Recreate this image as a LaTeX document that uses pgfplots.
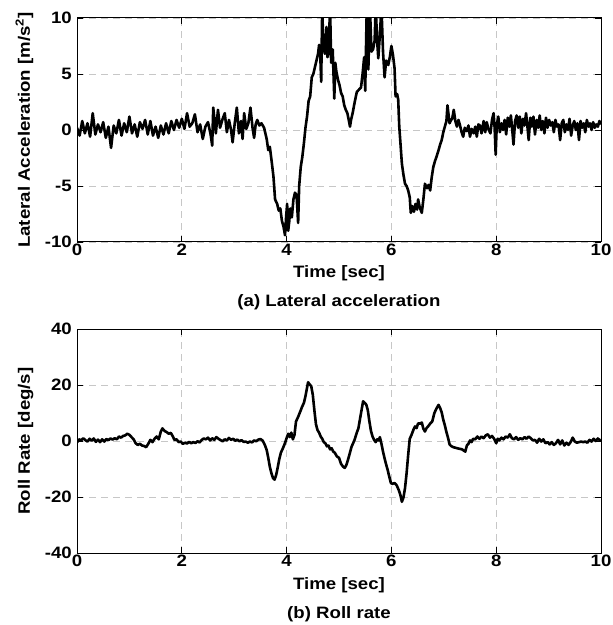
\documentclass[border=0pt]{standalone}
\usepackage{fontspec}
\setmainfont{Liberation Sans}[FakeStretch=1.13]
\usepackage{pgfplots}
\pgfplotsset{compat=1.18}

\pgfplotsset{
  panel/.style={
    width=524bp, height=224bp, scale only axis,
    xmin=0, xmax=10, xtick={0,2,...,10},
    tick align=inside, major tick length=6bp,
    axis line style={line width=1bp},
    every tick/.style={black, line width=0.8bp},
    grid=major,
    grid style={dash pattern=on 7bp off 5bp, black!22, line width=0.8bp},
    /pgf/number format/assume math mode=true,
    tick label style={font=\bfseries\fontsize{16.5bp}{20bp}\selectfont},
    label style={font=\bfseries\fontsize{16.5bp}{20bp}\selectfont},
    xticklabel style={inner sep=2bp},
    yticklabel style={inner sep=5bp},
    xlabel style={at={(axis description cs:0.5,0)}, anchor=base, yshift=-36bp},
    ylabel style={at={(axis description cs:-0.0897,0.5)}, anchor=base},
    xlabel={Time [sec]},
  }
}

\begin{document}
\begin{tikzpicture}
\useasboundingbox (-77bp,-72bp) rectangle (536bp,553bp);

% (a) lateral acceleration
\begin{axis}[panel, at={(0,311bp)},
  ymin=-10, ymax=10, ytick={-10,-5,0,5,10},
  ylabel={Lateral Acceleration [m/s\textsuperscript{2}]}]
\addplot[black, line width=2.6bp, line join=round] table {
0.00 0.2
0.05 -0.5
0.10 0.8
0.15 -0.3
0.20 0.6
0.25 -0.6
0.30 1.5
0.35 -0.4
0.40 0.5
0.45 -0.2
0.50 0.7
0.55 -0.7
0.60 0.3
0.65 -1.6
0.70 0.4
0.75 -0.3
0.80 0.9
0.85 -0.5
0.90 0.6
0.95 -0.2
1.00 1.2
1.05 -0.3
1.10 0.5
1.15 -0.6
1.20 0.7
1.25 0.1
1.30 0.9
1.35 -0.4
1.40 0.8
1.45 -0.5
1.50 0.3
1.55 -0.7
1.60 0.4
1.65 -0.4
1.70 0.6
1.75 -0.3
1.80 0.8
1.85 0.0
1.90 0.9
1.95 0.2
2.00 1.0
2.05 0.1
2.10 1.5
2.15 0.3
2.20 0.6
2.25 1.4
2.30 -0.2
2.35 0.5
2.40 -0.8
2.45 0.3
2.50 0.7
2.55 -0.4
2.58 -1.4
2.60 2.0
2.65 -0.3
2.69 1.8
2.73 0.2
2.78 1.0
2.82 1.5
2.86 -0.2
2.90 0.9
2.94 0.0
2.97 -1.1
3.01 0.6
3.05 2.0
3.09 -0.3
3.13 0.8
3.16 -0.8
3.19 1.5
3.23 0.1
3.27 0.6
3.31 2.0
3.35 0.2
3.38 -0.7
3.41 0.5
3.44 0.9
3.48 0.4
3.52 0.6
3.57 0.2
3.62 -0.8
3.65 -1.8
3.68 -1.5
3.72 -3.0
3.75 -4.2
3.78 -6.2
3.82 -6.6
3.85 -7.2
3.88 -7.0
3.91 -8.1
3.94 -8.6
3.97 -9.4
3.99 -7.8
4.01 -6.6
4.03 -9.0
4.05 -8.2
4.07 -7.0
4.10 -7.8
4.13 -6.2
4.16 -5.6
4.19 -5.8
4.22 -8.3
4.24 -5.0
4.27 -3.3
4.30 -2.4
4.33 -1.2
4.36 0.2
4.39 1.2
4.42 2.6
4.45 3.0
4.48 4.7
4.51 5.0
4.54 5.6
4.57 6.2
4.60 6.8
4.62 7.6
4.64 7.0
4.66 4.3
4.68 11
4.70 7.5
4.73 6.8
4.76 9.2
4.78 6.5
4.80 7.0
4.83 11
4.85 6.0
4.88 7.2
4.91 2.8
4.93 6.0
4.95 5.2
4.98 4.5
5.01 4.0
5.04 3.3
5.07 3.0
5.10 2.2
5.13 1.8
5.16 1.5
5.19 0.8
5.21 0.3
5.23 0.9
5.26 1.5
5.30 2.5
5.34 3.4
5.38 3.6
5.42 3.8
5.45 5.0
5.48 6.5
5.50 3.5
5.53 11
5.56 5.4
5.59 11
5.62 7.0
5.65 7.2
5.68 8.0
5.70 11
5.73 7.8
5.75 6.4
5.78 8.5
5.81 11
5.84 7.0
5.87 4.7
5.90 6.2
5.94 5.8
5.97 6.5
6.00 7.5
6.03 6.7
6.06 5.5
6.08 3.0
6.11 3.2
6.13 2.7
6.15 0.3
6.17 -1.0
6.20 -3.0
6.23 -4.0
6.26 -4.8
6.29 -5.0
6.32 -5.4
6.35 -6.0
6.37 -7.4
6.40 -6.8
6.43 -7.3
6.46 -6.6
6.49 -7.1
6.51 -6.2
6.54 -6.9
6.58 -7.4
6.61 -6.2
6.64 -4.8
6.68 -5.2
6.71 -4.9
6.74 -5.4
6.77 -4.2
6.80 -3.3
6.83 -2.8
6.86 -2.4
6.90 -1.8
6.93 -1.3
6.96 -0.9
6.99 -0.2
7.02 0.3
7.05 0.8
7.07 2.2
7.09 1.4
7.11 0.6
7.14 0.9
7.16 1.0
7.19 1.8
7.22 0.8
7.25 0.3
7.28 0.9
7.31 0.4
7.34 -0.2
7.37 -0.6
7.40 0.2
7.44 -0.1
7.47 0.4
7.50 -0.6
7.53 0.1
7.57 -0.3
7.60 0.3
7.63 -0.6
7.66 0.5
7.69 0.4
7.72 -0.3
7.76 0.8
7.79 -0.2
7.82 0.7
7.85 0.1
7.89 -0.3
7.92 0.9
7.95 1.5
7.97 0.2
7.99 -2.2
8.01 0.4
8.04 1.2
8.07 -0.2
8.10 0.6
8.13 0.0
8.16 0.9
8.19 -0.4
8.22 1.1
8.25 0.3
8.28 1.3
8.31 -0.2
8.33 -1.3
8.36 0.8
8.39 1.3
8.42 0.2
8.45 1.2
8.48 -0.3
8.51 1.0
8.54 0.4
8.57 1.5
8.60 0.1
8.62 -0.9
8.65 1.1
8.68 0.3
8.71 1.2
8.74 -0.4
8.77 0.9
8.80 0.2
8.83 1.3
8.86 0.0
8.89 0.8
8.92 -0.3
8.95 1.1
8.98 0.2
9.01 0.9
9.04 0.4
9.07 0.7
9.10 -0.2
9.13 0.9
9.16 0.3
9.19 0.5
9.22 -0.9
9.25 0.6
9.28 0.9
9.31 -0.2
9.34 0.5
9.37 0.0
9.40 1.0
9.43 -0.5
9.46 0.4
9.49 0.8
9.52 0.0
9.55 0.6
9.58 -0.9
9.61 0.8
9.64 0.2
9.67 0.6
9.70 -0.2
9.73 0.9
9.76 0.3
9.79 0.6
9.82 0.0
9.85 0.7
9.88 0.2
9.91 0.5
9.94 0.3
9.97 0.8
10.00 0.5
};
\end{axis}

% (b) roll rate
\begin{axis}[panel,
  ymin=-40, ymax=40, ytick={-40,-20,0,20,40},
  ylabel={Roll Rate [deg/s]}]
\addplot[black, line width=2.6bp, line join=round] table {
0.00 -0.5
0.04 0.6
0.08 0.2
0.12 1.0
0.16 0.3
0.20 -0.2
0.24 0.8
0.28 0.1
0.32 0.9
0.36 -0.3
0.40 0.5
0.44 -0.4
0.48 0.6
0.52 -0.2
0.56 0.7
0.60 0.3
0.64 0.9
0.68 0.5
0.72 1.0
0.76 0.6
0.80 1.6
0.84 1.2
0.88 1.8
0.92 2.0
0.96 2.6
1.00 2.2
1.04 1.4
1.08 0.6
1.12 -0.8
1.16 -1.4
1.20 -1.0
1.24 -1.6
1.28 -1.8
1.32 -2.2
1.36 -1.0
1.40 0.4
1.44 -0.4
1.48 0.8
1.52 1.6
1.56 0.6
1.60 3.4
1.63 4.5
1.67 3.6
1.71 3.2
1.75 2.6
1.79 2.9
1.83 1.6
1.86 0.4
1.90 0.6
1.94 -0.4
1.98 -0.2
2.02 -1.0
2.06 -0.6
2.10 -0.9
2.14 -0.3
2.18 -0.8
2.22 -0.4
2.26 -0.7
2.30 -0.1
2.34 -0.5
2.38 0.4
2.42 0.9
2.46 0.6
2.50 1.2
2.54 0.2
2.58 1.0
2.62 0.4
2.66 1.4
2.70 0.8
2.74 0.3
2.78 -0.1
2.82 0.6
2.86 0.2
2.90 1.1
2.94 0.4
2.98 0.8
3.02 0.1
3.06 0.5
3.10 -0.1
3.14 0.3
3.18 -0.3
3.22 -0.2
3.26 -0.6
3.30 -0.2
3.34 -0.5
3.38 0.2
3.42 -0.1
3.46 0.5
3.50 0.7
3.54 0.2
3.58 -1.2
3.62 -3.2
3.65 -6.0
3.68 -9.2
3.71 -11.5
3.74 -13.2
3.77 -13.8
3.80 -12.2
3.83 -9.5
3.86 -6.5
3.89 -4.2
3.92 -3.0
3.96 -1.2
4.00 1.0
4.03 2.6
4.06 1.4
4.09 3.0
4.12 0.6
4.15 2.2
4.18 7.0
4.22 8.6
4.26 10.5
4.30 12.4
4.33 13.6
4.36 16.0
4.39 19.0
4.41 21.0
4.44 20.2
4.47 19.6
4.50 16.5
4.53 11.0
4.56 6.0
4.59 3.9
4.62 3.0
4.65 1.6
4.68 0.8
4.71 -0.4
4.74 -0.8
4.77 -1.9
4.80 -1.6
4.83 -3.0
4.86 -2.6
4.89 -3.8
4.92 -4.2
4.96 -5.5
5.00 -6.0
5.04 -8.2
5.08 -9.2
5.11 -9.6
5.14 -8.6
5.17 -6.8
5.20 -4.8
5.24 -2.0
5.27 -0.8
5.30 0.6
5.34 3.0
5.37 4.5
5.40 7.8
5.43 11.0
5.46 14.2
5.49 13.6
5.52 13.0
5.55 11.0
5.58 7.0
5.61 3.6
5.64 1.6
5.67 0.4
5.70 -0.4
5.73 0.6
5.76 0.2
5.78 1.4
5.81 -1.0
5.84 -3.8
5.87 -6.2
5.90 -8.4
5.93 -10.4
5.96 -12.8
5.99 -15.0
6.02 -15.3
6.06 -15.0
6.10 -15.8
6.14 -17.5
6.17 -19.2
6.20 -21.7
6.23 -20.2
6.26 -16.8
6.29 -11.5
6.32 -5.0
6.35 0.8
6.38 2.0
6.42 4.0
6.45 5.2
6.48 4.6
6.51 6.3
6.55 6.2
6.58 6.6
6.61 4.4
6.64 3.4
6.67 4.6
6.70 5.2
6.74 6.2
6.78 7.0
6.82 10.0
6.86 11.6
6.90 12.9
6.93 11.8
6.96 10.2
6.99 7.6
7.02 5.6
7.05 3.2
7.08 1.2
7.11 -1.2
7.14 -1.8
7.18 -2.2
7.22 -2.4
7.26 -2.6
7.30 -2.8
7.34 -2.9
7.38 -3.4
7.41 -3.8
7.44 -1.6
7.47 -1.0
7.50 0.2
7.53 -0.4
7.56 0.8
7.60 0.6
7.64 1.6
7.68 0.8
7.72 1.6
7.76 1.0
7.80 2.0
7.84 2.4
7.88 1.2
7.92 1.8
7.96 0.8
8.00 -0.8
8.03 0.8
8.06 0.2
8.10 1.2
8.14 0.6
8.18 1.6
8.22 1.2
8.26 2.4
8.30 1.0
8.34 0.6
8.38 1.4
8.42 0.4
8.46 1.0
8.50 0.6
8.54 1.4
8.58 0.8
8.62 1.6
8.66 1.0
8.70 0.2
8.74 0.4
8.78 -0.6
8.82 0.8
8.86 -0.2
8.90 0.6
8.94 -0.8
8.98 -0.4
9.02 -1.2
9.06 -0.4
9.10 -1.4
9.14 -0.8
9.18 0.4
9.22 -1.2
9.26 0.2
9.30 -1.6
9.34 -0.6
9.38 -1.4
9.42 -0.4
9.46 1.2
9.50 -0.2
9.54 -0.6
9.58 -0.4
9.62 -0.2
9.66 -0.4
9.70 -0.2
9.74 -0.6
9.78 0.4
9.82 -0.2
9.86 0.8
9.90 0.0
9.94 0.9
9.98 0.2
10.00 0.5
};
\end{axis}

% sub-figure captions
\node[anchor=base, font=\bfseries\fontsize{16.5bp}{20bp}\selectfont] at (262bp,246bp) {(a) Lateral acceleration};
\node[anchor=base, font=\bfseries\fontsize{16.5bp}{20bp}\selectfont] at (262bp,-65bp) {(b) Roll rate};
\end{tikzpicture}
\end{document}
